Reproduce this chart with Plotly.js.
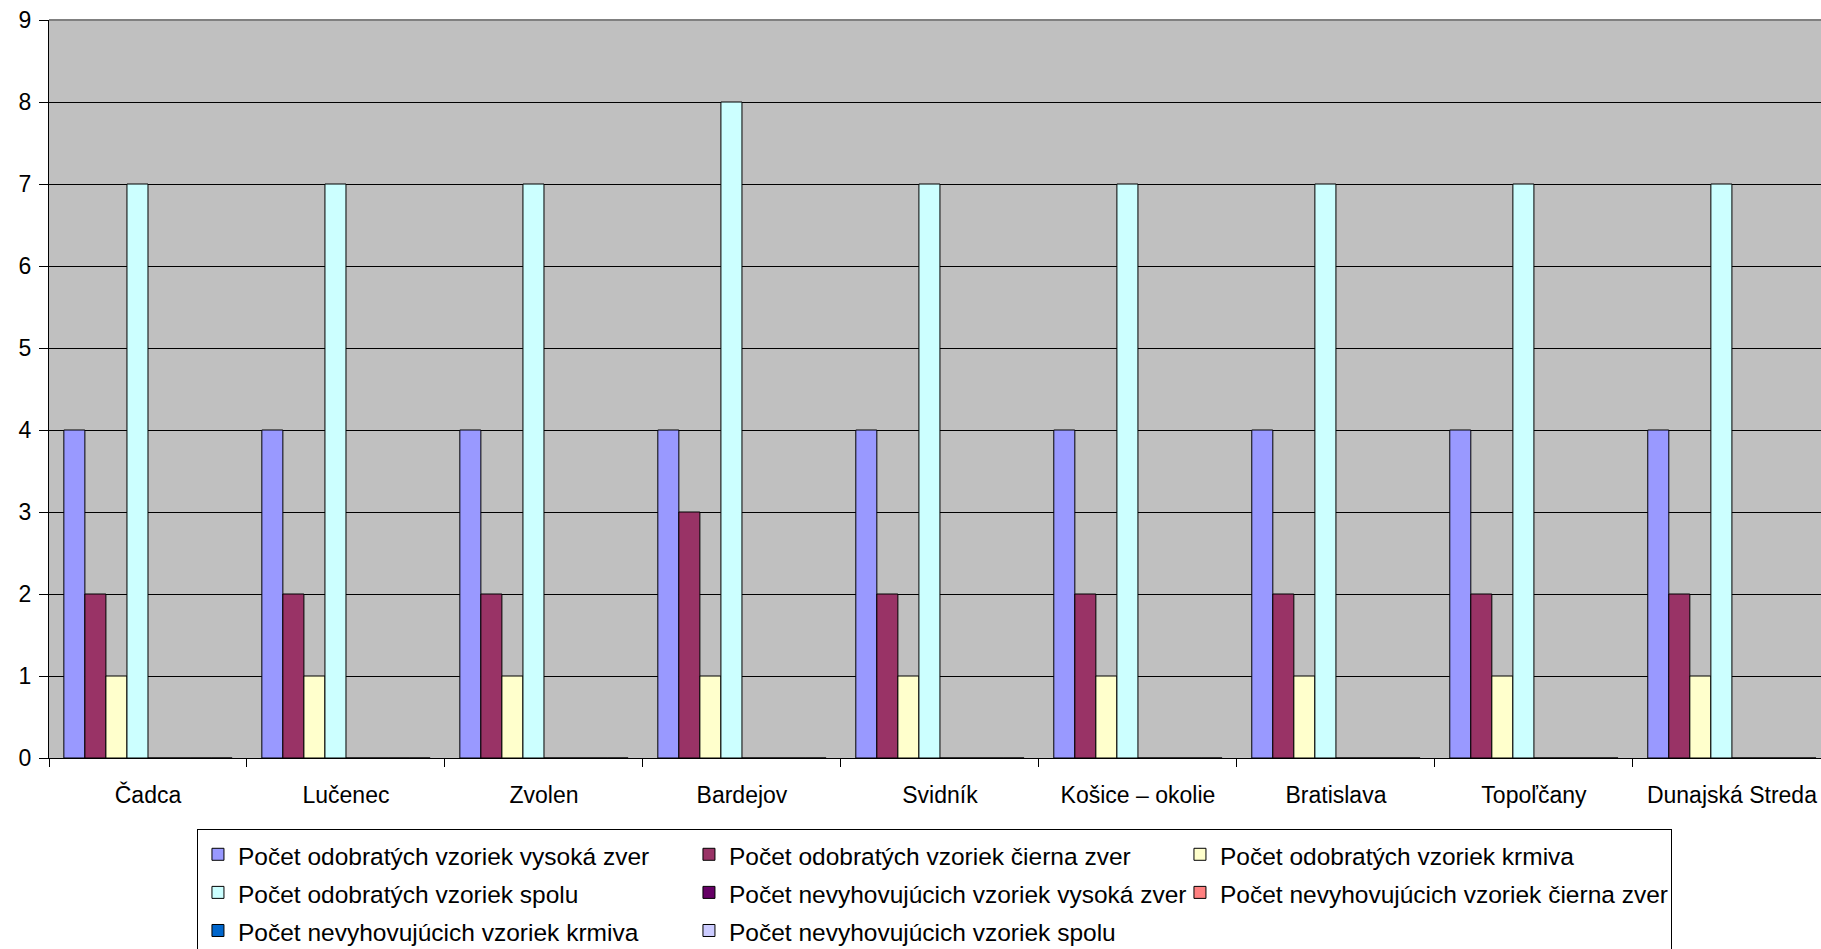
<!DOCTYPE html>
<html>
<head>
<meta charset="utf-8">
<script src="https://cdn.plot.ly/plotly-3.0.1.min.js"></script>
<style>
html,body{margin:0;padding:0;background:#fff;}
#chart{width:1821px;height:949px;}
</style>
</head>
<body>
<div id="chart"></div>
<script>
const categories = ["Čadca","Lučenec","Zvolen","Bardejov","Svidník","Košice – okolie","Bratislava","Topoľčany","Dunajská Streda"];

const seriesNames = [
  "Počet odobratých vzoriek vysoká zver",
  "Počet odobratých vzoriek čierna zver",
  "Počet odobratých vzoriek krmiva",
  "Počet odobratých vzoriek spolu",
  "Počet nevyhovujúcich vzoriek vysoká zver",
  "Počet nevyhovujúcich vzoriek čierna zver",
  "Počet nevyhovujúcich vzoriek krmiva",
  "Počet nevyhovujúcich vzoriek spolu"
];

const odobrateVysoka = [4,4,4,4,4,4,4,4,4];
const odobrateCierna = [2,2,2,3,2,2,2,2,2];
const odobrateKrmiva = [1,1,1,1,1,1,1,1,1];
const odobrateSpolu  = [7,7,7,8,7,7,7,7,7];
const nevyhovVysoka  = [0,0,0,0,0,0,0,0,0];
const nevyhovCierna  = [0,0,0,0,0,0,0,0,0];
const nevyhovKrmiva  = [0,0,0,0,0,0,0,0,0];
const nevyhovSpolu   = [0,0,0,0,0,0,0,0,0];

const yTicks = [0,1,2,3,4,5,6,7,8,9];

const seriesValues = [odobrateVysoka, odobrateCierna, odobrateKrmiva, odobrateSpolu,
                      nevyhovVysoka, nevyhovCierna, nevyhovKrmiva, nevyhovSpolu];
const colors = ["#9999FF","#993366","#FFFFCC","#CCFFFF","#660066","#FF8080","#0066CC","#CCCCFF"];

const FONT = "Liberation Sans, Arial, sans-serif";

const traces = seriesNames.map((name, i) => ({
  type: "bar",
  name: '<span style="font-size:24.5px">' + name + '</span>',
  x: categories,
  y: seriesValues[i],
  marker: {color: colors[i], line: {color: "#000000", width: 1}},
  hoverinfo: "none"
}));

const layout = {
  width: 1821,
  height: 949,
  margin: {l: 49, r: 0, t: 20, b: 191, pad: 0},
  paper_bgcolor: "#ffffff",
  plot_bgcolor: "#C0C0C0",
  font: {family: FONT, color: "#000000", size: 23},
  barmode: "group",
  bargap: 0.15,
  bargroupgap: 0,
  showlegend: true,
  legend: {
    orientation: "h",
    xref: "paper",
    x: 0.0835, xanchor: "left",
    yref: "container",
    y: 0.1262, yanchor: "top",
    entrywidth: 446,
    entrywidthmode: "pixels",
    bgcolor: "#ffffff",
    bordercolor: "#000000",
    borderwidth: 1,
    font: {family: FONT, size: 27, color: "#000000"},
    traceorder: "normal"
  },
  xaxis: {
    type: "category",
    range: [-0.5, 8.45],
    showgrid: false,
    zeroline: false,
    showline: true,
    linecolor: "#000000",
    linewidth: 1,
    ticks: "outside",
    tickson: "boundaries",
    ticklen: 8,
    tickcolor: "#000000",
    tickwidth: 1,
    ticklabelstandoff: 16,
    tickfont: {family: FONT, size: 23, color: "#000000"},
    fixedrange: true
  },
  yaxis: {
    range: [0, 9],
    tickvals: yTicks,
    ticktext: yTicks.map(String),
    showgrid: true,
    gridcolor: "#000000",
    gridwidth: 1,
    zeroline: false,
    showline: true,
    linecolor: "#000000",
    linewidth: 1,
    ticks: "outside",
    ticklen: 9,
    tickcolor: "#000000",
    tickwidth: 1,
    ticklabelstandoff: 3,
    tickfont: {family: FONT, size: 23, color: "#000000"},
    fixedrange: true
  },
  shapes: [
    {type: "line", xref: "paper", yref: "paper", x0: 0, x1: 1, y0: 1, y1: 1,
     line: {color: "#808080", width: 2}, layer: "above"}
  ]
};

Plotly.newPlot("chart", traces, layout, {displayModeBar: false, staticPlot: true});
</script>
</body>
</html>
